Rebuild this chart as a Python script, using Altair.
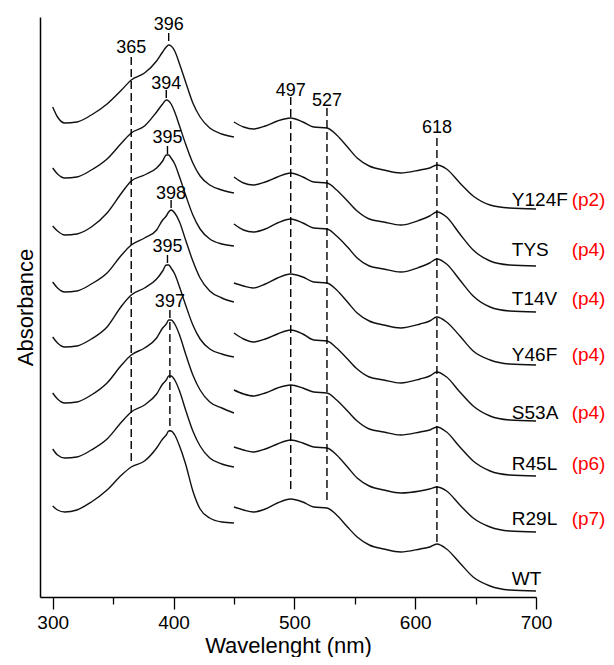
import altair as alt
import pandas as pd

# ---------------- data ----------------
samples = ["Y124F", "TYS", "T14V", "Y46F", "S53A", "R45L", "R29L", "WT"]
passages = ["(p2)", "(p4)", "(p4)", "(p4)", "(p4)", "(p6)", "(p7)", ""]
label_level = [391, 341, 292, 236, 178, 127, 72, 12]

# wavelength grids of the two recorded ranges (nm)
wl_uv = [300, 304, 310, 320, 332, 345, 357, 365, 376, 386, 391, 394, 396, 398,
         401, 405, 410, 416, 422, 430, 440, 450]
wl_vis = [450, 458, 466, 476, 486, 497, 507, 516, 527, 535, 544, 552, 562, 574,
          588, 604, 612, 618, 626, 637, 648, 662, 678, 700]

# absorbance (arbitrary units, stacked offsets), 300-450 nm
uv_Y124F = [490, 480, 474, 475, 482, 493, 507, 517, 524, 536, 545, 550, 552, 551, 546, 533, 515, 494, 480, 469, 463, 460]
uv_TYS = [429, 423, 419, 420, 427, 438, 454, 464, 471, 485, 493, 497, 496, 493, 485, 471, 453, 434, 421, 412, 407, 404]
uv_T14V = [371, 366, 362, 363, 370, 384, 404, 416, 422, 429, 436, 442, 442, 439, 433, 420, 402, 382, 368, 358, 353, 351]
uv_Y46F = [315, 309, 305, 306, 313, 324, 342, 352, 359, 367, 377, 381, 385, 387, 384, 375, 357, 336, 319, 306, 299, 295]
uv_S53A = [260, 254, 250, 251, 258, 270, 291, 302, 309, 318, 326, 332, 332, 329, 323, 310, 292, 272, 258, 248, 243, 240]
uv_R45L = [204, 198, 194, 195, 202, 214, 232, 242, 249, 259, 269, 273, 277, 277, 273, 262, 243, 222, 207, 195, 189, 184]
uv_R29L = [148, 142, 139, 140, 147, 158, 175, 185, 192, 203, 213, 217, 221, 221, 217, 206, 187, 166, 151, 139, 133, 130]
uv_WT = [91, 87, 85, 87, 95, 107, 122, 130, 136, 149, 158, 162, 166, 166, 162, 151, 133, 106, 88, 79, 75, 74]

# absorbance (arbitrary units, stacked offsets), 450-700 nm
vis_Y124F = [475, 470, 468, 471, 476, 479, 475, 470, 469, 462, 450, 439, 431, 427, 424, 427, 429, 432, 428, 414, 401, 392, 389, 388]
vis_TYS = [420, 414, 412, 415, 420, 424, 420, 415, 414, 407, 396, 386, 378, 375, 372, 377, 381, 385, 380, 363, 347, 336, 332, 331]
vis_T14V = [373, 367, 365, 368, 374, 378, 374, 369, 368, 361, 350, 339, 331, 328, 325, 330, 334, 338, 333, 317, 301, 290, 286, 285]
vis_Y46F = [314, 311, 309, 313, 319, 323, 320, 315, 314, 307, 295, 284, 276, 272, 269, 273, 276, 280, 275, 261, 246, 237, 233, 232]
vis_S53A = [264, 258, 255, 258, 263, 267, 263, 257, 256, 249, 238, 228, 220, 217, 214, 218, 221, 225, 220, 205, 191, 181, 177, 176]
vis_R45L = [207, 203, 201, 204, 209, 212, 209, 205, 204, 197, 186, 176, 168, 165, 162, 165, 167, 170, 165, 150, 136, 126, 122, 121]
vis_R29L = [150, 147, 145, 148, 153, 157, 154, 150, 149, 142, 130, 119, 111, 107, 104, 106, 108, 110, 106, 92, 79, 70, 66, 65]
vis_WT = [90, 87, 85, 88, 94, 98, 95, 90, 89, 82, 70, 60, 52, 48, 45, 48, 50, 53, 48, 34, 20, 11, 7, 6]

# marked band maxima / shoulders
peak_wl = [365, 396, 394, 395, 398, 395, 397, 497, 527, 618]
peak_text = ["365", "396", "394", "395", "398", "395", "397", "497", "527", "618"]
peak_line_top = [540, 564, 507, 451, 397, 342, 287, 500, 489, 459]
peak_line_bottom = [133, 555, 498, 443, 388, 333, 166, 105, 95, 52]
peak_label_level = [544, 567, 508, 454, 398, 345, 290, 501, 491, 464]

# ---------------- tables ----------------
uv_series = [uv_Y124F, uv_TYS, uv_T14V, uv_Y46F, uv_S53A, uv_R45L, uv_R29L, uv_WT]
vis_series = [vis_Y124F, vis_TYS, vis_T14V, vis_Y46F, vis_S53A, vis_R45L, vis_R29L, vis_WT]

rows = []
for name, uv, vis in zip(samples, uv_series, vis_series):
    for w, a in zip(wl_uv, uv):
        rows.append({"sample": name, "key": name + "-uv", "wavelength": w, "absorbance": a})
    for w, a in zip(wl_vis, vis):
        rows.append({"sample": name, "key": name + "-vis", "wavelength": w, "absorbance": a})
spectra = pd.DataFrame(rows)

labels = pd.DataFrame({"sample": samples, "passage": passages, "level": label_level})
labels["name_wl"] = 680
labels["tag_wl"] = 729.5
tags = labels[labels["passage"] != ""]

peaks = pd.DataFrame({
    "wl": peak_wl, "text": peak_text, "top": peak_line_top,
    "bottom": peak_line_bottom, "lab": peak_label_level,
})

# ---------------- chart ----------------
FONT = "Liberation Sans"
xscale = alt.Scale(domain=[289.5, 700], nice=False, zero=False)
yscale = alt.Scale(domain=[0, 580], nice=False, zero=False)

major_axis = alt.Axis(
    orient="bottom",
    values=[300, 400, 500, 600, 700], tickSize=12, tickWidth=1.3, tickColor="black",
    domainColor="black", domainWidth=1.5, grid=False,
    labelFont=FONT, labelFontSize=19, labelColor="black", labelPadding=19,
    labelBaseline="alphabetic", labelFlush=False,
    title="Wavelenght (nm)", titleFont=FONT, titleFontSize=22, titleFontWeight="normal",
    titleColor="black", titleBaseline="alphabetic", titleY=55,
)
minor_axis = alt.Axis(
    orient="bottom",
    values=[350, 450, 550, 650], tickSize=7, tickWidth=1.3, tickColor="black",
    labels=False, domain=False, grid=False, title=None,
)
y_axis = alt.Axis(
    orient="left",
    ticks=False, labels=False, grid=False, domainColor="black", domainWidth=1.5,
    title="Absorbance", titleFont=FONT, titleFontSize=22, titleFontWeight="normal",
    titleColor="black", titleBaseline="alphabetic", titleX=-8,
)

lines = alt.Chart(spectra).mark_line(
    color="#111111", strokeWidth=1.4, interpolate="monotone"
).encode(
    x=alt.X("wavelength:Q", scale=xscale, axis=major_axis),
    y=alt.Y("absorbance:Q", scale=yscale, axis=y_axis),
    detail="key:N",
)

rules = alt.Chart(peaks).mark_rule(
    color="#000000", strokeWidth=1.4, strokeDash=[8, 4]
).encode(
    x=alt.X("wl:Q", scale=xscale, axis=minor_axis),
    y=alt.Y("top:Q", scale=yscale, axis=None),
    y2="bottom:Q",
)

peak_labels = alt.Chart(peaks).mark_text(
    font=FONT, fontSize=18, color="black", align="center", baseline="alphabetic"
).encode(
    x=alt.X("wl:Q", scale=xscale, axis=None),
    y=alt.Y("lab:Q", scale=yscale, axis=None),
    text="text:N",
)

names = alt.Chart(labels).mark_text(
    font=FONT, fontSize=19, color="black", align="left", baseline="alphabetic"
).encode(
    x=alt.X("name_wl:Q", scale=xscale, axis=None),
    y=alt.Y("level:Q", scale=yscale, axis=None),
    text="sample:N",
)

passage_tags = alt.Chart(tags).mark_text(
    font=FONT, fontSize=19, color="#ff0000", align="left", baseline="alphabetic"
).encode(
    x=alt.X("tag_wl:Q", scale=xscale, axis=None),
    y=alt.Y("level:Q", scale=yscale, axis=None),
    text="passage:N",
)

chart = alt.layer(lines, rules, peak_labels, names, passage_tags).resolve_axis(
    x="independent", y="independent"
).properties(
    width=496, height=580,
    autosize=alt.AutoSizeParams(type="none"),
    padding={"left": 32, "top": 9, "right": 70, "bottom": 60},
).configure(
    background="white",
    view=alt.ViewConfig(stroke=None),
    axis=alt.AxisConfig(domainColor="black", tickColor="black"),
)

chart.save("out.html", embed_options={"renderer": "svg", "actions": False})
